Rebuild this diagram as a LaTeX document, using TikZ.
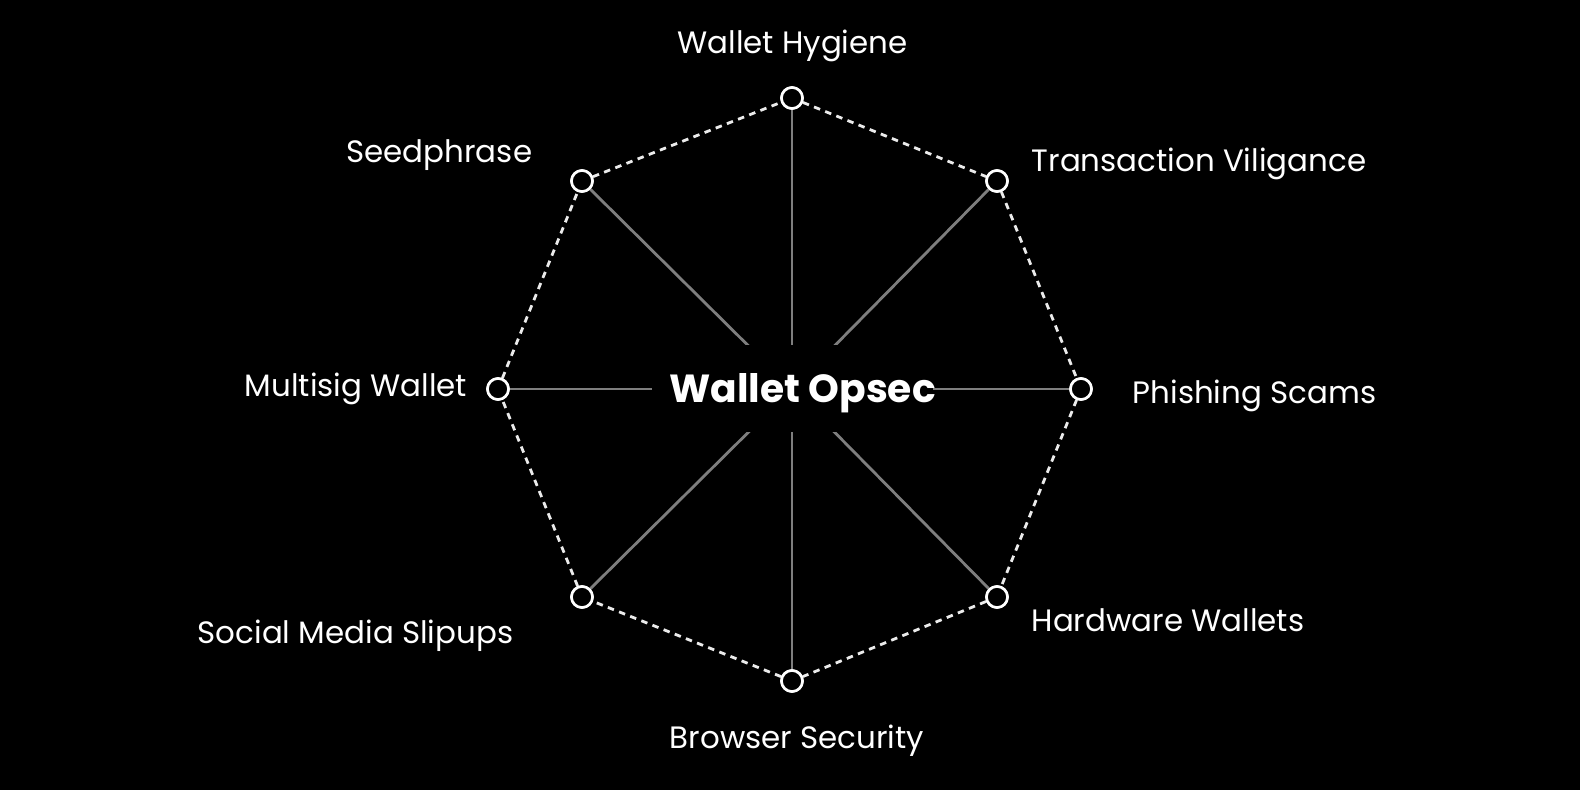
\documentclass[tikz,border=0pt]{standalone}
\usepackage{fontspec}
\setmainfont{Poppins}
\begin{document}
\begin{tikzpicture}[x=1pt,y=-1pt,
  dot/.style={circle,draw=white,line width=2.6pt,fill=black,minimum size=21pt,inner sep=0pt},
  spoke/.style={draw=spokegray,line width=2.8pt},
  rim/.style={draw=white!92!black,line width=2.8pt,dash pattern=on 6.5pt off 5.5pt},
  lbl/.style={text=white,font=\fontsize{30.9}{37}\selectfont,anchor=base,inner sep=0pt},
  hubbox/.style={fill=black,inner sep=0pt,minimum width=281pt,minimum height=87pt}]
\definecolor{spokegray}{HTML}{7E7E7E}
\fill[black] (0,0) rectangle (1580,790);
\useasboundingbox (0,0) rectangle (1580,790);
\coordinate (c) at (792,389);
\node[dot] (n1) at (792,98) {};
\node[dot] (n2) at (997,181) {};
\node[dot] (n3) at (1081,389) {};
\node[dot] (n4) at (997,597) {};
\node[dot] (n5) at (792,681) {};
\node[dot] (n6) at (582,597) {};
\node[dot] (n7) at (498,389) {};
\node[dot] (n8) at (582,181) {};
\foreach \i in {1,...,8} \draw[spoke] (c) -- (n\i);
\node[hubbox] (hub) at (792.5,388.5) {};
\node[text=white,font=\fontsize{39.2}{46}\bfseries\selectfont,anchor=base,inner sep=0pt] (title) at (802.5,402) {Wallet Opsec};
\draw[rim] (n1) -- (n2) -- (n3) -- (n4) -- (n5) -- (n6) -- (n7) -- (n8) -- (n1);
\foreach \i in {1,...,8} \node[dot] at (n\i) {};
\node[lbl] (l1) at (792.5,53) {Wallet Hygiene};
\node[lbl] (l2) at (1199,171.5) {Transaction Viligance};
\node[lbl] (l3) at (1254.5,403.5) {Phishing Scams};
\node[lbl] (l4) at (1168,631.5) {Hardware Wallets};
\node[lbl] (l5) at (797,748.5) {Browser Security};
\node[lbl] (l6) at (355.5,643) {Social Media Slipups};
\node[lbl] (l7) at (356,396) {Multisig Wallet};
\node[lbl] (l8) at (439.3,162.5) {Seedphrase};
\end{tikzpicture}
\end{document}
